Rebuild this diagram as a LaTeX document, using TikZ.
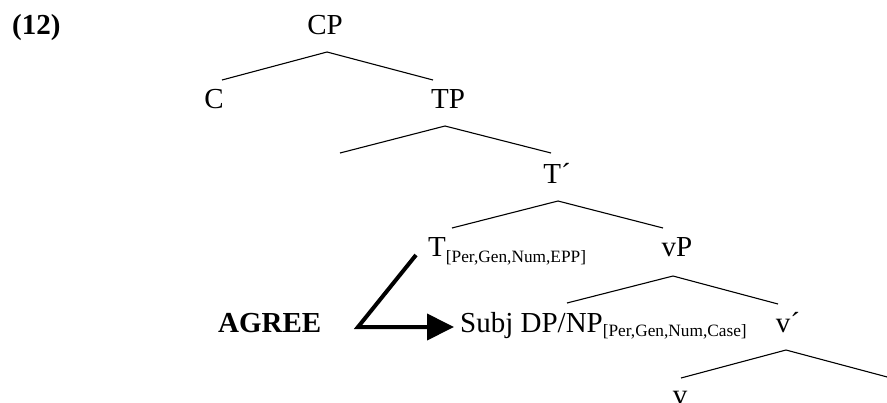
\documentclass[tikz,border=0pt]{standalone}
\usepackage{fontspec}
\setmainfont{Liberation Serif}
\usetikzlibrary{arrows.meta}
\newcommand{\mainsz}{\fontsize{29}{34}\selectfont}
\newcommand{\subsz}[2]{\raisebox{-#1pt}{\fontsize{17.3}{20}\selectfont #2}}
\begin{document}
\begin{tikzpicture}[x=1pt,y=-1pt,
  lab/.style={inner sep=0pt,font=\mainsz},
  branch/.style={line width=1.1pt},
  agreearrow/.style={line width=4pt,-{Triangle[length=27pt,width=26pt]}}]
\useasboundingbox (0,0) rectangle (887,402);
\clip (0,0) rectangle (887,402);
% labels
\node[lab,anchor=base west,font=\mainsz\bfseries] (ex) at (12,34) {(12)};
\node[lab,anchor=base] (CP) at (325,34) {CP};
\node[lab,anchor=base] (C) at (214,108) {C};
\node[lab,anchor=base] (TP) at (448,108) {TP};
\node[lab,anchor=base] (Tbar) at (557,183) {T´};
\node[lab,anchor=base west] (T) at (428,256) {T\subsz{6}{[Per,Gen,Num,EPP]}};
\node[lab,anchor=base] (vP) at (677,256) {vP};
\node[lab,anchor=base west] (subj) at (460,332) {Subj DP/NP\subsz{4}{[Per,Gen,Num,Case]}};
\node[lab,anchor=base] (vbar) at (788,332) {v´};
\node[lab,anchor=base] (v) at (680,404) {v};
\node[lab,anchor=base west,font=\mainsz\bfseries] (agree) at (218,332) {AGREE};
% branch points
\coordinate (cpA) at (327,52);  \coordinate (cpL) at (222,80);  \coordinate (cpR) at (433,80);
\coordinate (tpA) at (445,126); \coordinate (tpL) at (340,153); \coordinate (tpR) at (551,153);
\coordinate (tbA) at (558,201); \coordinate (tbL) at (452,228); \coordinate (tbR) at (663,228);
\coordinate (vpA) at (673,276); \coordinate (vpL) at (567,303); \coordinate (vpR) at (778,304);
\coordinate (vbA) at (786,350); \coordinate (vbL) at (681,378); \coordinate (vbR) at (891,378);
\draw[branch] (cpL) -- (cpA) -- (cpR);
\draw[branch] (tpL) -- (tpA) -- (tpR);
\draw[branch] (tbL) -- (tbA) -- (tbR);
\draw[branch] (vpL) -- (vpA) -- (vpR);
\draw[branch] (vbL) -- (vbA) -- (vbR);
% AGREE arrow
\coordinate (agTop) at (416,255);
\coordinate (agCorner) at (358,327);
\coordinate (agTip) at (454,327);
\draw[agreearrow] (agTop) -- (agCorner) -- (agTip);
\end{tikzpicture}
\end{document}
